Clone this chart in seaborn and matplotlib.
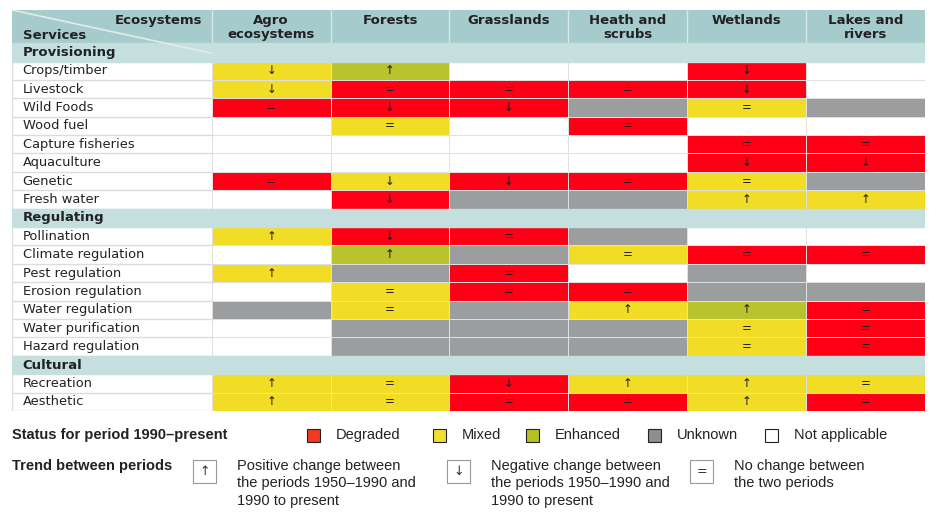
import numpy as np
import pandas as pd
import seaborn as sns
from matplotlib import pyplot as plt
from matplotlib.colors import ListedColormap
from matplotlib.patches import Rectangle

# ecosystems (columns) and services (rows)
ecosystems = ['Agro\necosystems', 'Forests', 'Grasslands', 'Heath and\nscrubs', 'Wetlands', 'Lakes and\nrivers']
sections = ['Provisioning', 'Regulating', 'Cultural']

provisioning = ['Crops/timber', 'Livestock', 'Wild Foods', 'Wood fuel', 'Capture fisheries',
                'Aquaculture', 'Genetic', 'Fresh water']
regulating = ['Pollination', 'Climate regulation', 'Pest regulation', 'Erosion regulation',
              'Water regulation', 'Water purification', 'Hazard regulation']
cultural = ['Recreation', 'Aesthetic']

# status 1990-present: D degraded, M mixed, E enhanced, U unknown, N not applicable
status_prov = ['MENNDN', 'MDDDDN', 'DDDUMU', 'NMNDNN', 'NNNNDD', 'NNNNDD', 'DMDDMU', 'NDUUMM']
status_reg = ['MDDUNN', 'NEUMDD', 'MUDNUN', 'NMDDUU', 'UMUMED', 'NUUUMD', 'NUUUMD']
status_cult = ['MMDMMM', 'MMDDMD']

# trend between periods: u up, d down, = no change, space none
trend_prov = ['du  d ', 'd===d ', '=dd = ', ' = =  ', '    ==', '    dd', '=dd== ', ' d  uu']
trend_reg = ['ud=   ', ' u ===', 'u =   ', ' ===  ', ' = uu=', '    ==', '    ==']
trend_cult = ['u=duu=', 'u===u=']

status_names = ['Degraded', 'Mixed', 'Enhanced', 'Unknown', 'Not applicable']
cell_colors = ['#fe0016', '#f2dd26', '#b8c32e', '#9c9d9f', '#ffffff']
legend_colors = ['#f03b22', '#f3df30', '#b7c026', '#8e8e8e', '#ffffff']
header_color = '#a6cbcc'
section_color = '#c5dfdf'

sns.set_theme(style='white')
plt.rcParams['font.family'] = ['DejaVu Sans']

code = {'D': 0, 'M': 1, 'E': 2, 'U': 3, 'N': 4}
arrow = {'u': '↑', 'd': '↓', '=': '=', ' ': ''}

rows, values, notes, section_rows = [], [], [], []
for name, labels, stat, trend in [(sections[0], provisioning, status_prov, trend_prov),
                                  (sections[1], regulating, status_reg, trend_reg),
                                  (sections[2], cultural, status_cult, trend_cult)]:
    section_rows.append(len(rows))
    rows.append(name)
    values.append([np.nan] * 6)
    notes.append([''] * 6)
    for lab, s, t in zip(labels, stat, trend):
        rows.append(lab)
        values.append([code[c] for c in s])
        notes.append([arrow[c] for c in t])

df = pd.DataFrame(values, index=rows, columns=ecosystems)
ann = pd.DataFrame(notes, index=rows, columns=ecosystems)

W, H = 944, 512
fig = plt.figure(figsize=(W / 100, H / 100), dpi=100)
ax = fig.add_axes([12 / W, 1 - 411 / H, (925 - 12) / W, (411 - 10) / H])

lab_w = 1.68
head_h = 1.8
n = len(rows)

sns.heatmap(df, ax=ax, cmap=ListedColormap(cell_colors), vmin=-0.5, vmax=4.5, cbar=False,
            annot=ann, fmt='', annot_kws={'size': 8.5, 'color': '#1e1e1e'},
            linewidths=0.5, linecolor='#e0e0e0')
ax.set_xlim(-lab_w, 6)
ax.set_ylim(n, -head_h)
ax.axis('off')

# header
ax.add_patch(Rectangle((-lab_w, -head_h), lab_w + 6, head_h, color=header_color, zorder=0.5))
for j in range(1, 7):
    ax.plot([j - 1, j - 1], [-head_h, 0], color='#d6e8e8', lw=1, zorder=1)
for j, e in enumerate(ecosystems):
    ax.text(j + 0.5, -head_h + 0.2, e, ha='center', va='top', fontsize=9.5,
            fontweight='bold', color='#222222', linespacing=1.1)
ax.text(-0.08, -head_h + 0.2, 'Ecosystems', ha='right', va='top', fontsize=9.5,
        fontweight='bold', color='#222222')
ax.text(-lab_w + 0.09, -0.08, 'Services', ha='left', va='bottom', fontsize=9.5,
        fontweight='bold', color='#222222')

# label column and section rows
for i, r in enumerate(rows):
    if i in section_rows:
        ax.add_patch(Rectangle((-lab_w, i), lab_w + 6, 1, color=section_color, zorder=2))
        ax.text(-lab_w + 0.09, i + 0.5, r, ha='left', va='center', fontsize=9.5,
                fontweight='bold', color='#222222', zorder=3)
    else:
        ax.text(-lab_w + 0.09, i + 0.5, r, ha='left', va='center', fontsize=9.4,
                color='#222222')
        ax.plot([-lab_w, 0], [i + 1, i + 1], color='#dcdcdc', lw=1, zorder=1)
ax.plot([-lab_w, -lab_w], [0, n], color='#dcdcdc', lw=1, zorder=1)
ax.plot([-lab_w, 0], [-head_h, 0.55], color='#e4eaea', lw=1.2, zorder=2.5)


def px(x, y):
    return x / W, 1 - y / H


# legend: status
fig.text(*px(12, 435), 'Status for period 1990\u2013present', fontsize=10.5, fontweight='bold',
         family='Liberation Sans', va='center', color='#222222')
sq_x = [307, 433, 526, 648, 765]
for x, name, col in zip(sq_x, status_names, legend_colors):
    fig.patches.append(Rectangle(px(x, 442), 13 / W, 13 / H, transform=fig.transFigure,
                                 facecolor=col, edgecolor='#222222', lw=0.8))
    fig.text(*px(x + 29, 435), name, fontsize=10.5, family='Liberation Sans', va='center',
             color='#222222')

# legend: trend
fig.text(*px(12, 466), 'Trend between periods', fontsize=10.5, fontweight='bold',
         family='Liberation Sans', va='center', color='#222222')
trend_keys = ['↑', '↓', '=']
trend_text = ['Positive change between\nthe periods 1950\u20131990 and\n1990 to present',
              'Negative change between\nthe periods 1950\u20131990 and\n1990 to present',
              'No change between\nthe two periods']
box_x = [193, 447, 690]
for x, k, t in zip(box_x, trend_keys, trend_text):
    fig.patches.append(Rectangle(px(x, 483), 23 / W, 23 / H, transform=fig.transFigure,
                                 facecolor='white', edgecolor='#999999', lw=0.8))
    fig.text(*px(x + 11.5, 471.5), k, fontsize=9, ha='center', va='center', color='#333333')
    fig.text(*px(x + 44, 459), t, fontsize=10.5, family='Liberation Sans', va='top',
             color='#222222', linespacing=1.3)

fig.savefig('out.png', dpi=100)
